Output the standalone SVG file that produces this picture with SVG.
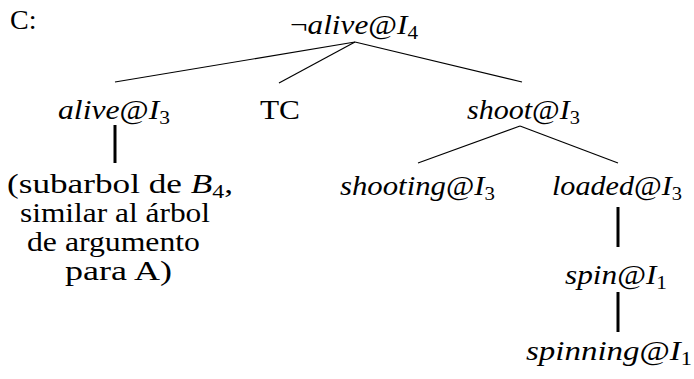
<svg xmlns="http://www.w3.org/2000/svg" width="694" height="379" viewBox="0 0 694 379">
  <style>
    text { font-family: "Liberation Serif", "Times New Roman", serif; font-size: 28px; fill: #000; }
    .m { font-style: italic; }
    .up { font-style: normal; }
    .sub { font-size: 19px; font-style: normal; }
    .thin { stroke: #000; stroke-width: 1.2; fill: none; }
    .thick { stroke: #000; stroke-width: 3; fill: none; }
  </style>
  <rect width="694" height="379" fill="#fff"/>

  <text x="10" y="29">C:</text>

  <!-- tree edges: thin slanted branches, thick vertical single-child links -->
  <g id="connectors">
    <line class="thin" x1="355" y1="42" x2="115" y2="82"/>
    <line class="thin" x1="355" y1="42" x2="279" y2="83"/>
    <line class="thin" x1="355" y1="42" x2="522" y2="82"/>
    <line class="thick" x1="115" y1="125" x2="115" y2="163"/>
    <line class="thin" x1="520" y1="126" x2="418" y2="163"/>
    <line class="thin" x1="520" y1="126" x2="618" y2="163"/>
    <line class="thick" x1="618" y1="207" x2="618" y2="247"/>
    <line class="thick" x1="618" y1="292" x2="618" y2="332"/>
  </g>

  <g id="root">
    <text x="290" y="34" textLength="128" lengthAdjust="spacingAndGlyphs"><tspan class="up">¬</tspan><tspan class="m">alive</tspan><tspan class="up">@</tspan><tspan class="m">I</tspan><tspan class="sub" dy="5">4</tspan></text>
  </g>

  <g id="alive3">
    <text x="58" y="119" textLength="112" lengthAdjust="spacingAndGlyphs"><tspan class="m">alive</tspan><tspan class="up">@</tspan><tspan class="m">I</tspan><tspan class="sub" dy="5">3</tspan></text>
  </g>

  <g id="tc">
    <text x="260" y="119" textLength="40" lengthAdjust="spacingAndGlyphs">TC</text>
  </g>

  <g id="shoot3">
    <text x="467" y="119" textLength="113" lengthAdjust="spacingAndGlyphs"><tspan class="m">shoot</tspan><tspan class="up">@</tspan><tspan class="m">I</tspan><tspan class="sub" dy="5">3</tspan></text>
  </g>

  <g id="subtree">
    <text x="7" y="193" textLength="226" lengthAdjust="spacingAndGlyphs">(subarbol de <tspan class="m">B</tspan><tspan class="sub" dy="5">4</tspan><tspan dy="-5">,</tspan></text>
    <text x="20" y="222" textLength="190" lengthAdjust="spacingAndGlyphs">similar al árbol</text>
    <text x="27" y="251" textLength="173" lengthAdjust="spacingAndGlyphs">de argumento</text>
    <text x="65" y="280" textLength="107" lengthAdjust="spacingAndGlyphs">para A)</text>
  </g>

  <g id="shooting3">
    <text x="340" y="195" textLength="155" lengthAdjust="spacingAndGlyphs"><tspan class="m">shooting</tspan><tspan class="up">@</tspan><tspan class="m">I</tspan><tspan class="sub" dy="5">3</tspan></text>
  </g>

  <g id="loaded3">
    <text x="552" y="195" textLength="130" lengthAdjust="spacingAndGlyphs"><tspan class="m">loaded</tspan><tspan class="up">@</tspan><tspan class="m">I</tspan><tspan class="sub" dy="5">3</tspan></text>
  </g>

  <g id="spin1">
    <text x="565" y="284" textLength="102" lengthAdjust="spacingAndGlyphs"><tspan class="m">spin</tspan><tspan class="up">@</tspan><tspan class="m">I</tspan><tspan class="sub" dy="5">1</tspan></text>
  </g>

  <g id="spinning1">
    <text x="526" y="360" textLength="166" lengthAdjust="spacingAndGlyphs"><tspan class="m">spinning</tspan><tspan class="up">@</tspan><tspan class="m">I</tspan><tspan class="sub" dy="5">1</tspan></text>
  </g>
</svg>
